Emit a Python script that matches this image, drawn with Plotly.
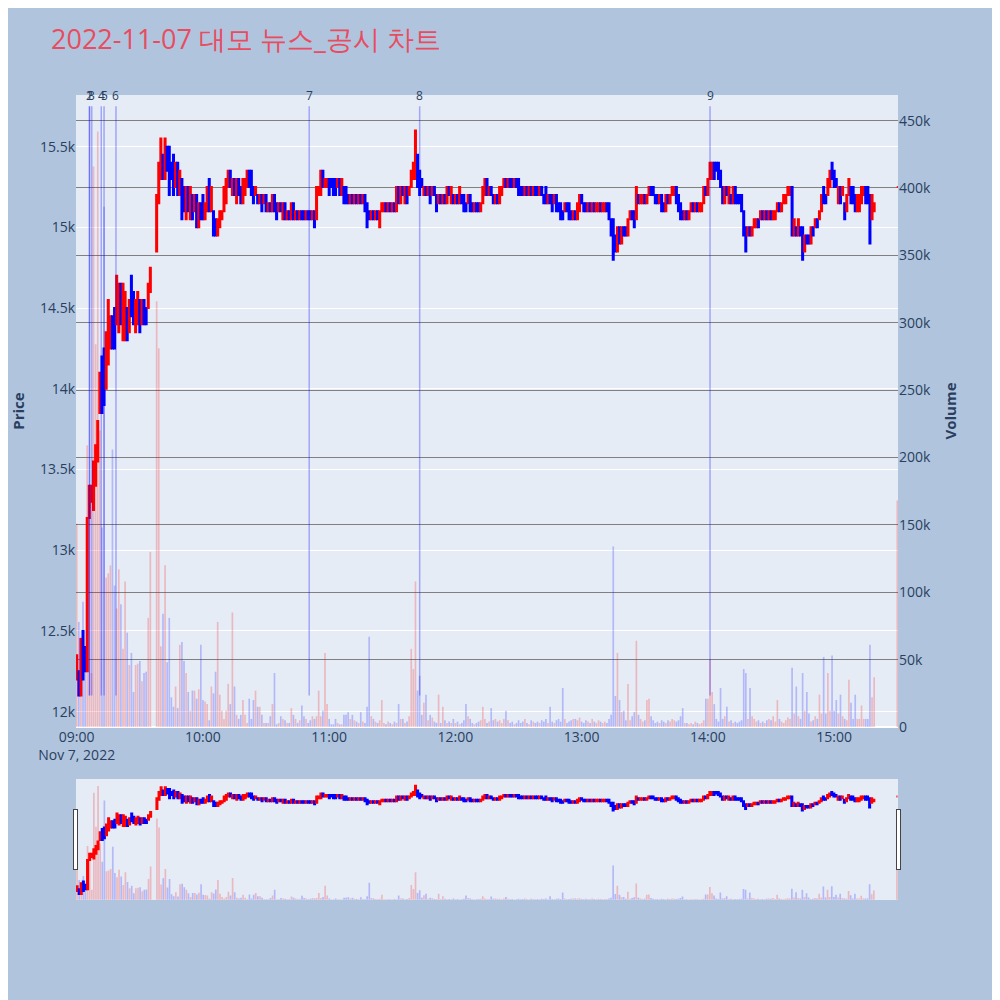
import pandas as pd
import plotly.graph_objects as go
from plotly.subplots import make_subplots

trade_day = "2022-11-07"
title_text = "2022-11-07 대모 뉴스_공시 차트"

# 09:36~09:37 VI 로 체결 없음, 15:20~15:29 장마감 동시호가
vi_halt = ["09:36", "09:37"]
closing_auction = "15:30"

# 1분봉 시가 (09:00~09:35, 09:38~15:19, 15:30)
open_px = [
    12200, 12250, 12100, 12500, 12400, 12250, 13200, 13300, 13250, 13400,
    13550, 13850, 14200, 14250, 14000, 14150, 14250, 14450, 14500, 14400,
    14350, 14650, 14300, 14300, 14500, 14350, 14700, 14600, 14350, 14400,
    14550, 14400, 14550, 14500, 14500, 14600,
    14850, 15150, 15300, 15450, 15300, 15500, 15500, 15400, 15450, 15250, 15400, 15200,
    15300, 15250, 15050, 15250, 15050, 15200, 15100, 15200, 15000, 15150,
    15200, 15050, 15100, 15300, 15100, 15100, 15050, 14950, 15000, 15050,
    15100, 15150, 15250, 15350, 15200, 15300, 15150, 15300, 15250, 15150,
    15200, 15250, 15350, 15350, 15250, 15200, 15200, 15150, 15200, 15150,
    15200, 15100, 15150, 15100, 15200, 15150, 15100, 15150, 15050, 15150,
    15050, 15100, 15050, 15150, 15050, 15100, 15050, 15100, 15100, 15050,
    15100, 15100, 15050, 15100, 15050, 15200, 15200, 15350, 15250, 15250,
    15300, 15300, 15300, 15300, 15250, 15300, 15200, 15250, 15250, 15200,
    15150, 15200, 15150, 15200, 15150, 15200, 15150, 15200, 15150, 15100,
    15050, 15100, 15050, 15100, 15000, 15100, 15100, 15150, 15100, 15150,
    15100, 15150, 15100, 15250, 15150, 15250, 15150, 15250, 15200, 15250,
    15300, 15300, 15450, 15350, 15300, 15200, 15250, 15200, 15250, 15200,
    15250, 15200, 15150, 15200, 15150, 15200, 15150, 15250, 15150, 15200,
    15150, 15200, 15150, 15200, 15200, 15150, 15150, 15200, 15150, 15100,
    15150, 15150, 15100, 15150, 15200, 15300, 15200, 15250, 15200, 15150,
    15200, 15150, 15200, 15250, 15300, 15250, 15300, 15300, 15250, 15300,
    15300, 15250, 15250, 15200, 15250, 15200, 15250, 15200, 15250, 15250,
    15200, 15250, 15200, 15250, 15150, 15200, 15200, 15150, 15200, 15150,
    15150, 15100, 15100, 15150, 15150, 15100, 15050, 15100, 15050, 15100,
    15200, 15150, 15150, 15100, 15150, 15100, 15150, 15100, 15100, 15150,
    15100, 15100, 15150, 15150, 15050, 15050, 14950, 14850, 15000, 14900,
    15000, 15000, 14950, 15050, 15100, 15100, 15050, 15200, 15150, 15150,
    15200, 15150, 15200, 15250, 15250, 15200, 15200, 15150, 15200, 15150,
    15100, 15200, 15150, 15200, 15200, 15250, 15200, 15150, 15100, 15050,
    15100, 15050, 15100, 15150, 15100, 15150, 15100, 15100, 15150, 15250,
    15200, 15300, 15300, 15400, 15400, 15400, 15350, 15250, 15150, 15250,
    15150, 15200, 15150, 15250, 15200, 15200, 15200, 15100, 15000, 14950,
    15000, 14950, 15000, 15000, 15050, 15050, 15100, 15050, 15100, 15050,
    15100, 15050, 15050, 15100, 15150, 15100, 15150, 15150, 15200, 15200,
    15250, 14950, 15000, 14950, 15000, 15000, 14850, 14950, 14950, 14900,
    15000, 15000, 15050, 15050, 15100, 15250, 15200, 15200, 15250, 15400,
    15350, 15300, 15150, 15250, 15200, 15150, 15100, 15200, 15250, 15250,
    15200, 15100, 15100, 15150, 15200, 15250, 15250, 15200, 15050, 15100,
    15250,
]

# 1분봉 종가
close_px = [
    12350, 12100, 12450, 12200, 12250, 13200, 13400, 13400, 13550, 13650,
    13800, 14100, 13850, 13900, 14350, 14550, 14450, 14250, 14250, 14700,
    14650, 14400, 14650, 14600, 14300, 14550, 14450, 14400, 14550, 14600,
    14350, 14550, 14400, 14400, 14650, 14750,
    15200, 15400, 15550, 15300, 15550, 15350, 15200, 15300, 15200, 15400, 15200, 15350,
    15050, 15100, 15250, 15100, 15250, 15050, 15200, 15000, 15150, 15050,
    15050, 15150, 15250, 15100, 15250, 14950, 14950, 15050, 15100, 15100,
    15250, 15300, 15350, 15250, 15300, 15200, 15300, 15200, 15150, 15300,
    15300, 15350, 15250, 15200, 15150, 15250, 15150, 15200, 15100, 15200,
    15100, 15150, 15100, 15200, 15100, 15050, 15150, 15100, 15150, 15050,
    15100, 15050, 15150, 15050, 15100, 15050, 15100, 15050, 15050, 15100,
    15050, 15050, 15100, 15000, 15250, 15250, 15350, 15250, 15300, 15300,
    15200, 15250, 15200, 15200, 15300, 15200, 15300, 15150, 15150, 15150,
    15200, 15150, 15200, 15150, 15200, 15150, 15200, 15100, 15000, 15050,
    15100, 15050, 15100, 15050, 15100, 15150, 15150, 15100, 15150, 15100,
    15150, 15100, 15250, 15150, 15250, 15200, 15250, 15150, 15250, 15350,
    15400, 15600, 15250, 15200, 15250, 15250, 15200, 15250, 15150, 15250,
    15200, 15100, 15200, 15150, 15200, 15150, 15250, 15200, 15250, 15150,
    15200, 15150, 15250, 15150, 15100, 15100, 15200, 15100, 15100, 15150,
    15100, 15100, 15150, 15250, 15300, 15200, 15250, 15200, 15150, 15200,
    15150, 15250, 15250, 15300, 15250, 15300, 15250, 15250, 15300, 15250,
    15200, 15200, 15200, 15250, 15200, 15250, 15200, 15250, 15200, 15200,
    15250, 15200, 15150, 15150, 15200, 15150, 15100, 15200, 15100, 15100,
    15050, 15050, 15150, 15100, 15050, 15050, 15100, 15050, 15150, 15200,
    15150, 15100, 15100, 15150, 15100, 15150, 15100, 15150, 15150, 15100,
    15150, 15150, 15100, 15050, 14950, 14800, 14850, 15000, 14900, 15000,
    14950, 14950, 15050, 15100, 15050, 15000, 15250, 15150, 15200, 15200,
    15150, 15200, 15250, 15200, 15200, 15150, 15150, 15200, 15100, 15100,
    15200, 15150, 15200, 15250, 15250, 15150, 15100, 15050, 15050, 15100,
    15050, 15100, 15150, 15100, 15150, 15100, 15150, 15150, 15250, 15200,
    15300, 15400, 15400, 15300, 15350, 15300, 15250, 15150, 15250, 15200,
    15250, 15150, 15250, 15150, 15150, 15150, 15100, 14950, 14850, 15000,
    14950, 15000, 15050, 15050, 15000, 15100, 15050, 15100, 15050, 15100,
    15050, 15100, 15100, 15150, 15100, 15150, 15200, 15200, 15250, 15250,
    14950, 15050, 14950, 15050, 14950, 14800, 14950, 14900, 14900, 15000,
    14950, 15050, 15000, 15100, 15200, 15150, 15150, 15300, 15350, 15300,
    15250, 15250, 15250, 15150, 15250, 15050, 15200, 15300, 15150, 15150,
    15100, 15200, 15200, 15250, 15250, 15150, 15150, 14900, 15200, 15150,
    15250,
]

# 1분 거래량 (천 주)
volume_k = [
    151, 78, 67, 93, 45, 209, 168, 40, 416, 284,
    442, 220, 148, 386, 111, 114, 120, 206, 105, 88,
    117, 91, 58, 108, 70, 46, 55, 26, 46, 47,
    49, 34, 40, 41, 81, 130,
    316, 281, 60, 84, 120, 48, 81, 22, 15, 30, 14, 61,
    63, 49, 40, 26, 12, 27, 27, 21, 28, 61,
    20, 19, 17, 5, 30, 25, 41, 78, 24, 12,
    6, 12, 32, 17, 85, 30, 9, 6, 9, 20,
    9, 3, 21, 6, 20, 27, 15, 15, 9, 3,
    3, 3, 8, 17, 40, 2, 3, 8, 6, 5,
    3, 3, 14, 9, 6, 3, 5, 16, 8, 6,
    3, 5, 8, 6, 8, 27, 8, 12, 55, 17,
    6, 2, 2, 6, 3, 2, 2, 9, 9, 11,
    6, 9, 5, 4, 3, 11, 4, 3, 15, 67,
    8, 6, 4, 3, 5, 20, 3, 2, 4, 3,
    2, 4, 3, 17, 6, 6, 3, 4, 8, 58,
    43, 108, 27, 38, 9, 18, 24, 5, 9, 7,
    4, 3, 24, 3, 15, 5, 3, 4, 3, 6,
    3, 4, 2, 3, 5, 17, 8, 6, 3, 2,
    3, 4, 5, 15, 6, 3, 4, 14, 5, 6,
    4, 5, 3, 6, 12, 5, 3, 4, 2, 3,
    5, 3, 4, 6, 3, 2, 5, 4, 3, 4,
    3, 5, 4, 6, 3, 15, 4, 3, 5, 6,
    4, 29, 6, 3, 4, 5, 6, 6, 5, 7,
    4, 3, 5, 4, 3, 6, 4, 3, 5, 4,
    3, 4, 3, 6, 9, 134, 23, 55, 20, 11,
    12, 5, 32, 5, 8, 11, 64, 9, 6, 4,
    5, 20, 21, 8, 5, 3, 4, 3, 5, 4,
    3, 5, 4, 6, 5, 4, 5, 8, 14, 3,
    3, 2, 3, 2, 4, 3, 2, 3, 5, 21,
    21, 50, 26, 17, 6, 4, 29, 6, 8, 15,
    4, 5, 3, 4, 3, 4, 5, 43, 40, 6,
    29, 8, 6, 4, 5, 3, 4, 3, 5, 6,
    5, 8, 4, 20, 6, 4, 3, 5, 7, 6,
    44, 10, 30, 8, 6, 40, 12, 26, 10, 4,
    5, 8, 6, 24, 10, 52, 10, 40, 12, 53,
    12, 20, 10, 24, 8, 6, 5, 35, 18, 6,
    24, 6, 6, 16, 6, 6, 6, 61, 22, 37,
    168,
]

# 뉴스/공시 시각
news_no = ["1", "2", "3", "4", "5", "6", "7", "8", "9"]
news_time = ["09:06:00", "09:06:10", "09:07:10", "09:11:40", "09:13:00",
             "09:18:40", "10:50:30", "11:43:00", "14:01:00"]
news_line_low = 12100
news_line_high = 15750

minutes = pd.date_range(f"{trade_day} 09:00", f"{trade_day} 15:19", freq="min")
minutes = minutes[~minutes.strftime("%H:%M").isin(vi_halt)]
times = list(minutes) + [pd.Timestamp(f"{trade_day} {closing_auction}")]

high_px = [max(o, c) for o, c in zip(open_px, close_px)]
low_px = [min(o, c) for o, c in zip(open_px, close_px)]
volume = [v * 1000 for v in volume_k]
bar_colors = ["rgba(255,0,0,0.22)" if c >= o else "rgba(0,0,255,0.22)"
              for o, c in zip(open_px, close_px)]

fig = make_subplots(specs=[[{"secondary_y": True}]])

fig.add_trace(go.Candlestick(
    x=times, open=open_px, high=high_px, low=low_px, close=close_px,
    increasing=dict(line=dict(color="red"), fillcolor="red"),
    decreasing=dict(line=dict(color="blue"), fillcolor="blue"),
    name="Price",
), secondary_y=False)

fig.add_trace(go.Bar(
    x=times, y=volume, marker_color=bar_colors, marker_line_width=0, name="Volume",
), secondary_y=True)

for no, t in zip(news_no, news_time):
    ts = f"{trade_day} {t}"
    fig.add_shape(type="line", xref="x", yref="y", x0=ts, x1=ts,
                  y0=news_line_low, y1=news_line_high,
                  line=dict(color="rgba(0,0,255,0.3)", width=1.5))
    fig.add_annotation(x=ts, y=news_line_high, xref="x", yref="y", text=no,
                       showarrow=False, yanchor="bottom", font=dict(size=12))

fig.update_layout(
    width=1000, height=1000,
    font=dict(size=14),
    title=dict(text=title_text, x=0.043, y=0.968, yanchor="middle",
               font=dict(size=27, color="#E84C61")),
    paper_bgcolor="lightsteelblue",
    margin=dict(l=68, r=110, t=87, b=108),
    showlegend=False,
)
fig.update_xaxes(domain=[0, 1],
                 range=[f"{trade_day} 08:59:40", f"{trade_day} 15:30:20"],
                 rangeslider=dict(visible=True))
fig.update_yaxes(title=dict(text="<b>Price</b>", font=dict(size=15), standoff=23),
                 range=[11905, 15820], automargin=False, secondary_y=False)
fig.update_yaxes(title=dict(text="<b>Volume</b>", font=dict(size=15)),
                 range=[0, 469000], showgrid=True, gridcolor="grey",
                 secondary_y=True)

fig.write_html("out.html")
